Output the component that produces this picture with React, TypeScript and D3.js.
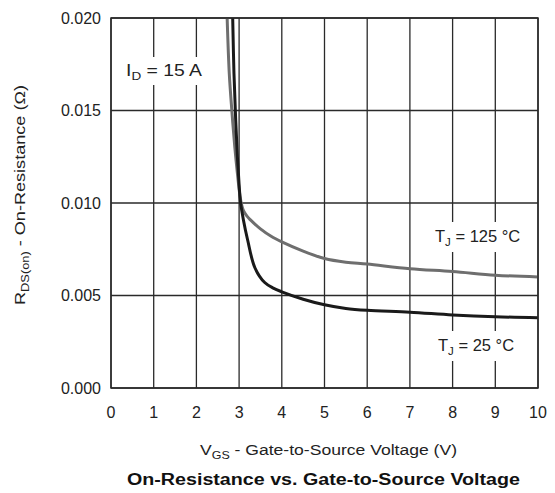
import React from "react";
import * as d3 from "d3";

// Gate-to-source voltage (V) and on-resistance (Ω) for each junction temperature
const vgs25 = [2.85, 2.88, 2.92, 2.96, 3.0, 3.03, 3.1, 3.2, 3.37, 3.6, 3.8, 4.0, 4.5, 5.0, 5.5, 6.0, 7.0, 8.0, 9.0, 10.0];
const rds25 = [0.02, 0.017, 0.0145, 0.0125, 0.011, 0.0101, 0.0091, 0.008, 0.0065, 0.0057, 0.0054, 0.0052, 0.0048, 0.0045, 0.0043, 0.0042, 0.0041, 0.00395, 0.00385, 0.0038];

const vgs125 = [2.72, 2.77, 2.83, 2.9, 2.96, 3.02, 3.06, 3.1, 3.18, 3.26, 3.5, 3.75, 4.0, 4.5, 5.0, 5.5, 6.0, 7.0, 8.0, 9.0, 10.0];
const rds125 = [0.02, 0.017, 0.015, 0.013, 0.0116, 0.0104, 0.0099, 0.0096, 0.0093, 0.0091, 0.0086, 0.0082, 0.0079, 0.0074, 0.007, 0.0068, 0.0067, 0.00645, 0.0063, 0.0061, 0.006];

const xTicks = [0, 1, 2, 3, 4, 5, 6, 7, 8, 9, 10];
const yTicks = [0, 0.005, 0.01, 0.015, 0.02];

const W = 555;
const H = 493;
const left = 111;
const right = 538;
const top = 18;
const bottom = 388;

const font = "'Liberation Sans', Arial, sans-serif";
const grid = "#2a2a2a";

export default function App() {
  const x = d3.scaleLinear().domain([0, 10]).range([left, right]);
  const y = d3.scaleLinear().domain([0, 0.02]).range([bottom, top]);

  const line = d3
    .line<[number, number]>()
    .x((d) => x(d[0]))
    .y((d) => y(d[1]))
    .curve(d3.curveCatmullRom.alpha(0.5));

  const pts25 = vgs25.map((v, i) => [v, rds25[i]] as [number, number]);
  const pts125 = vgs125.map((v, i) => [v, rds125[i]] as [number, number]);

  return (
    <svg
      width={W}
      height={H}
      style={{ position: "absolute", left: 0, top: 0, background: "#fff" }}
      fontFamily={font}
    >
      <defs>
        <clipPath id="plot">
          <rect x={left} y={top} width={right - left} height={bottom - top} />
        </clipPath>
      </defs>

      {/* grid */}
      {xTicks.map((t) => (
        <line key={"gx" + t} x1={x(t)} x2={x(t)} y1={top} y2={bottom} stroke={grid} strokeWidth={1.3} />
      ))}
      {yTicks.map((t) => (
        <line key={"gy" + t} x1={left} x2={right} y1={y(t)} y2={y(t)} stroke={grid} strokeWidth={1.3} />
      ))}

      {/* annotation backgrounds */}
      <rect x={121} y={57} width={86} height={28} fill="#fff" />
      <rect x={429} y={222} width={98} height={30} fill="#fff" />
      <rect x={432} y={331} width={92} height={30} fill="#fff" />

      {/* curves */}
      <g clipPath="url(#plot)">
        <path d={line(pts125) ?? ""} fill="none" stroke="#6e6e6e" strokeWidth={3} />
        <path d={line(pts25) ?? ""} fill="none" stroke="#1a1a1a" strokeWidth={3} />
      </g>

      <rect x={left} y={top} width={right - left} height={bottom - top} fill="none" stroke={grid} strokeWidth={1.5} />

      {/* tick labels */}
      {yTicks.map((t) => (
        <text key={"ty" + t} x={101} y={y(t)} dy="0.35em" textAnchor="end" fontSize={16} fill="#222">
          {d3.format(".3f")(t)}
        </text>
      ))}
      {xTicks.map((t) => (
        <text key={"tx" + t} x={x(t)} y={418} textAnchor="middle" fontSize={16} fill="#222">
          {t}
        </text>
      ))}

      {/* annotations */}
      <text x={126} y={76} fontSize={16.5} fill="#222" textLength={76} lengthAdjust="spacingAndGlyphs">
        I<tspan fontSize={11.5} dy={4}>D</tspan>
        <tspan dy={-4}> = 15 A</tspan>
      </text>
      <text x={435} y={242} fontSize={16.5} fill="#222">
        T<tspan fontSize={11.5} dy={4}>J</tspan>
        <tspan dy={-4}> = 125 °C</tspan>
      </text>
      <text x={438} y={351} fontSize={16.5} fill="#222">
        T<tspan fontSize={11.5} dy={4}>J</tspan>
        <tspan dy={-4}> = 25 °C</tspan>
      </text>

      {/* axis titles */}
      <text x={200} y={455} fontSize={15.5} fill="#222" textLength={257} lengthAdjust="spacingAndGlyphs">
        V<tspan fontSize={11} dy={4}>GS</tspan>
        <tspan dy={-4}> - Gate-to-Source Voltage (V)</tspan>
      </text>
      <text
        transform="translate(25,305) rotate(-90)"
        fontSize={15.5}
        fill="#222"
        textLength={220}
        lengthAdjust="spacingAndGlyphs"
      >
        R<tspan fontSize={11} dy={4}>DS(on)</tspan>
        <tspan dy={-4}> - On-Resistance (Ω)</tspan>
      </text>
      <text x={127} y={485} fontSize={17.4} fontWeight="bold" fill="#111" textLength={393} lengthAdjust="spacingAndGlyphs">
        On-Resistance vs. Gate-to-Source Voltage
      </text>
    </svg>
  );
}
